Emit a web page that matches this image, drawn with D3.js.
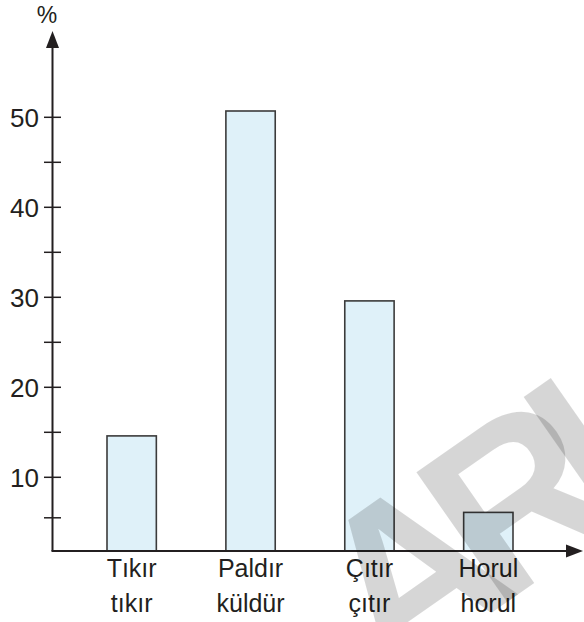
<!DOCTYPE html>
<html>
<head>
<meta charset="utf-8">
<script src="https://cdn.jsdelivr.net/npm/d3@7"></script>
<style>
  html, body { margin: 0; padding: 0; background: #ffffff; }
  svg { display: block; }
  text { font-family: "Liberation Sans", Arial, Helvetica, sans-serif; }
</style>
</head>
<body>
<svg id="chart" width="584" height="622"></svg>
<script>
// ---- data ----
const categoriesLine1 = ["Tıkır", "Paldır", "Çıtır", "Horul"];
const categoriesLine2 = ["tıkır", "küldür", "çıtır", "horul"];
const values = [14.6, 50.7, 29.6, 6.1];
const majorTicks = [10, 20, 30, 40, 50];
const minorTicks = [5.5, 15, 25, 35, 45];
const axisFloor = 1.8;          // value at which the horizontal axis sits
const unitLabel = "%";
const watermarkText = "ARI";

// ---- layout ----
const W = 584, H = 622;
const axisX = 52.5;
const ink = "#231f20";

const svg = d3.select("#chart");

const x = d3.scaleBand()
  .domain(categoriesLine1)
  .range([107, 513])
  .paddingInner(0.585)
  .paddingOuter(0);

const y = d3.scaleLinear().domain([0, 50]).range([567.3, 117.3]);
const baseY = y(axisFloor);

// bars
svg.append("g").selectAll("rect")
  .data(values)
  .join("rect")
  .attr("x", (d, i) => x(categoriesLine1[i]))
  .attr("y", d => y(d))
  .attr("width", x.bandwidth())
  .attr("height", d => baseY - y(d))
  .attr("fill", "#dff1f9")
  .attr("stroke", "#3b3b3b")
  .attr("stroke-width", 1.6);

// y axis line
svg.append("line")
  .attr("x1", axisX).attr("x2", axisX)
  .attr("y1", baseY).attr("y2", 46)
  .attr("stroke", ink).attr("stroke-width", 2);
svg.append("path")
  .attr("d", `M${axisX},31 L${axisX - 6.5},48 L${axisX + 6.5},48 Z`)
  .attr("fill", ink);

// x axis line
svg.append("line")
  .attr("x1", axisX - 1).attr("x2", 568)
  .attr("y1", baseY).attr("y2", baseY)
  .attr("stroke", ink).attr("stroke-width", 2);
svg.append("path")
  .attr("d", `M583,${baseY} L566,${baseY - 6.5} L566,${baseY + 6.5} Z`)
  .attr("fill", ink);

// ticks
const allTicks = majorTicks.concat(minorTicks);
svg.append("g").selectAll("line")
  .data(allTicks)
  .join("line")
  .attr("x1", axisX - 8.5).attr("x2", axisX + 8.5)
  .attr("y1", d => y(d)).attr("y2", d => y(d))
  .attr("stroke", ink).attr("stroke-width", 1.5);

// tick labels
svg.append("g").selectAll("text")
  .data(majorTicks)
  .join("text")
  .attr("x", 39)
  .attr("y", d => y(d) + 9.5)
  .attr("text-anchor", "end")
  .attr("font-size", 26)
  .attr("fill", ink)
  .text(d => d);

// unit label
svg.append("text")
  .attr("x", 47).attr("y", 23)
  .attr("text-anchor", "middle")
  .attr("font-size", 23)
  .attr("fill", ink)
  .text(unitLabel);

// category labels
const lab = svg.append("g");
lab.selectAll("text.l1")
  .data(categoriesLine1)
  .join("text")
  .attr("class", "l1")
  .attr("x", d => x(d) + x.bandwidth() / 2)
  .attr("y", 577)
  .attr("text-anchor", "middle")
  .attr("font-size", 25)
  .attr("fill", ink)
  .text(d => d);
lab.selectAll("text.l2")
  .data(categoriesLine2)
  .join("text")
  .attr("class", "l2")
  .attr("x", (d, i) => x(categoriesLine1[i]) + x.bandwidth() / 2)
  .attr("y", 612)
  .attr("text-anchor", "middle")
  .attr("font-size", 25)
  .attr("fill", ink)
  .text(d => d);

// watermark
svg.append("text")
  .attr("transform", "translate(387,686) rotate(-35)")
  .attr("font-size", 230)
  .attr("font-weight", "bold")
  .attr("letter-spacing", -35)
  .attr("fill", "#000")
  .attr("fill-opacity", 0.16)
  .text(watermarkText);
</script>
</body>
</html>
